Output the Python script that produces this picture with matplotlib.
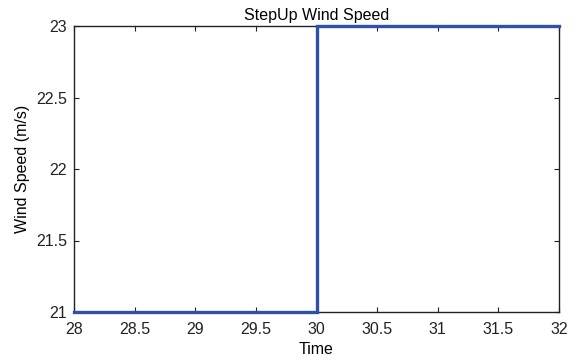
import matplotlib
matplotlib.use("Agg")
import matplotlib.pyplot as plt

# step input for wind speed
time = [28, 30, 30, 32]
wind_speed = [21, 21, 23, 23]
x_ticks = [28, 28.5, 29, 29.5, 30, 30.5, 31, 31.5, 32]
y_ticks = [21, 21.5, 22, 22.5, 23]

plt.rcParams["font.family"] = ["Liberation Sans", "DejaVu Sans"]
plt.rcParams["font.size"] = 11.5

fig = plt.figure(figsize=(5.73, 3.62), dpi=100)
ax = fig.add_axes([74 / 573, 1 - 312 / 362, (559 - 74) / 573, (312 - 26) / 362])

ax.plot(time, wind_speed, color="#3050a8", linewidth=2.4,
        solid_joinstyle="miter", clip_on=False, zorder=5)

ax.set_xlim(28, 32)
ax.set_ylim(21, 23)
ax.set_xticks(x_ticks)
ax.set_xticklabels(["28", "28.5", "29", "29.5", "30", "30.5", "31", "31.5", "32"])
ax.set_yticks(y_ticks)
ax.set_yticklabels(["21", "21.5", "22", "22.5", "23"])
ax.tick_params(direction="in", length=3.5, width=0.8, top=True, right=True,
               colors="#222222", labelcolor="#222222", labelsize=11.5)
ax.tick_params(axis="x", pad=7)
ax.tick_params(axis="y", pad=5)
for s in ax.spines.values():
    s.set_color("#222222")
    s.set_linewidth(1.0)

ax.set_title("StepUp Wind Speed", fontsize=11.5, pad=4)
ax.set_xlabel("Time", fontsize=11.5, labelpad=4)
ax.set_ylabel("Wind Speed (m/s)", fontsize=11.5, labelpad=4)

fig.savefig("out.png", dpi=100)
